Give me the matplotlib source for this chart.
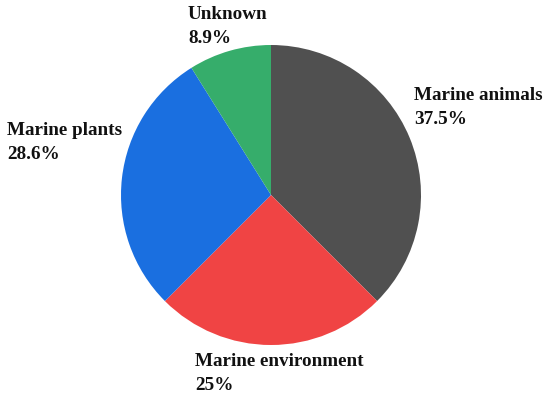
import matplotlib
matplotlib.use("Agg")
import matplotlib.pyplot as plt

categories = ["Marine animals", "Marine environment", "Marine plants", "Unknown"]
values = [37.5, 25.0, 28.6, 8.9]
pct_labels = ["37.5%", "25%", "28.6%", "8.9%"]
colors = ["#505050", "#f04444", "#1a6fe0", "#36ad6b"]

W, H = 550, 400
cx, cy, R = 271, 195, 150
fig = plt.figure(figsize=(W / 100, H / 100), dpi=100)
ax = fig.add_axes([0, 0, 1, 1])
ax.pie(values, colors=colors, startangle=90, counterclock=False, radius=1,
       center=(0, 0), wedgeprops=dict(linewidth=0))
ax.set_xlim(-cx / R, (W - cx) / R)
ax.set_ylim((cy - H) / R, cy / R)
ax.set_aspect("auto")
ax.axis("off")

def px(x, y):
    return (x - cx) / R, (cy - y) / R

# label anchor (left x, first-line baseline y) in pixels
anchors = [(414, 100), (195, 366), (7, 135), (188, 19)]
font = dict(family=["Liberation Serif", "DejaVu Serif"], fontweight="bold",
            fontsize=13.8, color="#111111")
for name, pct, (lx, ly) in zip(categories, pct_labels, anchors):
    x, y = px(lx, ly)
    ax.text(x, y, name, ha="left", va="baseline", **font)
    x2, y2 = px(lx, ly + 24)
    ax.text(x2, y2, pct, ha="left", va="baseline", **font)

fig.savefig("out.png", dpi=100)
